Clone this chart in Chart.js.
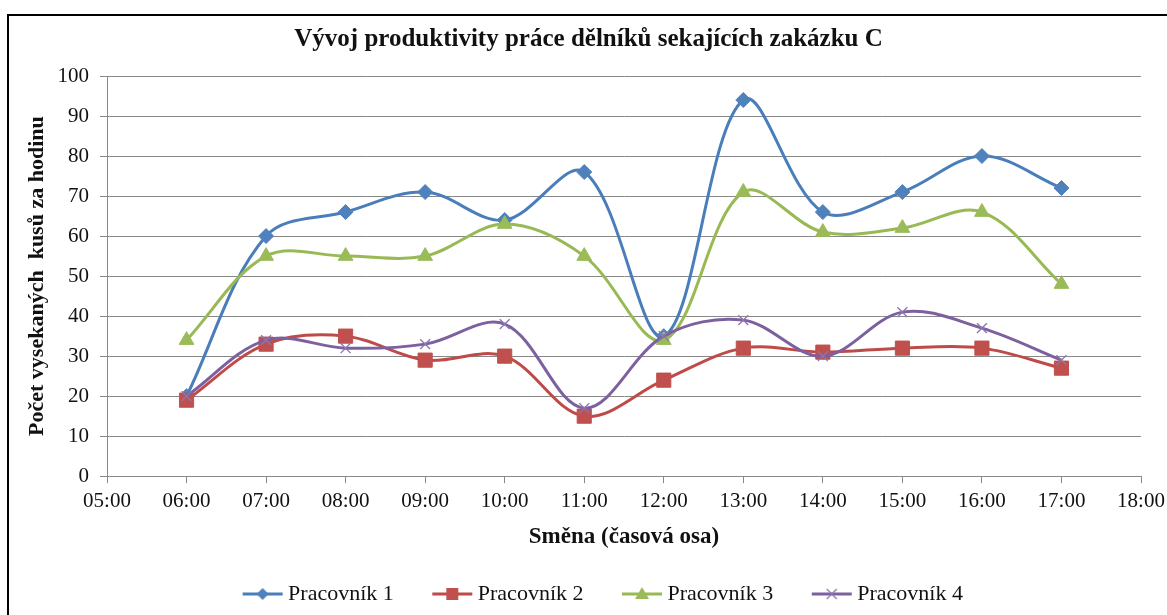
<!DOCTYPE html>
<html>
<head>
<meta charset="utf-8">
<script src="https://cdn.jsdelivr.net/npm/chart.js@4/dist/chart.umd.min.js"></script>
<style>
  html, body { margin: 0; padding: 0; background: #fff; overflow: hidden; }
  #wrap { position: relative; width: 1167px; height: 615px; }
  #frame { position: absolute; left: 7px; top: 14px; width: 1200px; height: 700px;
           border-left: 2px solid #000; border-top: 2px solid #000; box-sizing: border-box; }
  canvas { position: absolute; left: 0; top: 0; }
</style>
</head>
<body>
<div id="wrap">
  <div id="frame"></div>
  <canvas id="c" width="1167" height="615"></canvas>
</div>
<script>
// ---- data ----
const hours = [6, 7, 8, 9, 10, 11, 12, 13, 14, 15, 16, 17];
const tickLabels = ['05:00','06:00','07:00','08:00','09:00','10:00','11:00','12:00','13:00','14:00','15:00','16:00','17:00','18:00'];
const seriesNames = ['Pracovník 1', 'Pracovník 2', 'Pracovník 3', 'Pracovník 4'];
const pracovnik1 = [20, 60, 66, 71, 64, 76, 35, 94, 66, 71, 80, 72];
const pracovnik2 = [19, 33, 35, 29, 30, 15, 24, 32, 31, 32, 32, 27];
const pracovnik3 = [34, 55, 55, 55, 63, 55, 34, 71, 61, 62, 66, 48];
const pracovnik4 = [20, 34, 32, 33, 38, 17, 35, 39, 30, 41, 37, 29];
const titleText = 'Vývoj produktivity práce dělníků sekajících zakázku C';
const yTitle = 'Počet vysekaných  kusů za hodinu';
const xTitle = 'Směna (časová osa)';

// ---- styles ----
const lineColors = ['#4A7EBB', '#BE4B48', '#98B954', '#7D60A0'];
const markerColors = ['#4F81BD', '#C0504D', '#9BBB59', '#8C76B0'];
const shapes = ['rectRot', 'rect', 'triangle', 'crossRot'];
const radii = [7.5, 10, 8.5, 7];
const SERIF = '"Liberation Serif", "Times New Roman", serif';

function toPoints(vals) { return vals.map((v, i) => ({ x: hours[i], y: v })); }
const allSeries = [pracovnik1, pracovnik2, pracovnik3, pracovnik4];

// legend icons (line + marker)
const PSW = 63;
function makeIcon(i) {
  const cv = document.createElement('canvas');
  cv.width = 76; cv.height = 20;
  const g = cv.getContext('2d');
  g.strokeStyle = lineColors[i]; g.lineWidth = 3;
  g.beginPath(); g.moveTo(35, 10); g.lineTo(75, 10); g.stroke();
  const cx = 55, cy = 10;
  g.fillStyle = markerColors[i]; g.strokeStyle = markerColors[i];
  g.beginPath();
  if (shapes[i] === 'rectRot') {
    g.moveTo(cx, cy - 6); g.lineTo(cx + 6, cy); g.lineTo(cx, cy + 6); g.lineTo(cx - 6, cy); g.closePath(); g.fill();
  } else if (shapes[i] === 'rect') {
    g.rect(cx - 6, cy - 6, 12, 12); g.fill();
  } else if (shapes[i] === 'triangle') {
    g.moveTo(cx, cy - 7); g.lineTo(cx + 7, cy + 5); g.lineTo(cx - 7, cy + 5); g.closePath(); g.fill();
  } else {
    g.lineWidth = 1.3;
    g.moveTo(cx - 5, cy - 5); g.lineTo(cx + 5, cy + 5); g.moveTo(cx + 5, cy - 5); g.lineTo(cx - 5, cy + 5); g.stroke();
  }
  return cv;
}
const icons = [0, 1, 2, 3].map(makeIcon);

const datasets = allSeries.map((vals, i) => ({
  label: seriesNames[i],
  data: toPoints(vals),
  borderColor: lineColors[i],
  borderWidth: 3,
  tension: 0.35,
  pointStyle: shapes[i],
  pointRadius: radii[i],
  pointBackgroundColor: markerColors[i],
  pointBorderColor: markerColors[i],
  pointBorderWidth: shapes[i] === 'crossRot' ? 1.3 : 1,
  fill: false,
  order: 4 - i
}));

new Chart(document.getElementById('c'), {
  type: 'line',
  data: { datasets },
  options: {
    responsive: false,
    animation: false,
    events: [],
    layout: { padding: { left: 10, right: 0, top: 0, bottom: 0 } },
    scales: {
      x: {
        type: 'linear',
        min: 5, max: 18,
        ticks: {
          stepSize: 1,
          autoSkip: false,
          maxRotation: 0,
          padding: 6,
          color: '#111',
          font: { family: SERIF, size: 21 },
          callback: (v) => tickLabels[Math.round(v) - 5]
        },
        grid: { drawOnChartArea: false, drawTicks: true, tickLength: 7, color: '#888', lineWidth: 1 },
        border: { display: true, color: '#888', width: 1 },
        title: { display: true, text: xTitle, color: '#111',
                 font: { family: SERIF, size: 23, weight: 'bold' },
                 padding: { top: 3, bottom: 22 } },
        afterFit: (s) => { s.paddingRight = 26; }
      },
      y: {
        min: 0, max: 100,
        ticks: { stepSize: 10, padding: 11, color: '#111', font: { family: SERIF, size: 21 } },
        grid: { color: '#888', lineWidth: 1, drawTicks: true, tickLength: 7 },
        border: { display: true, color: '#888', width: 1 },
        title: { display: true, text: yTitle, color: '#111',
                 font: { family: SERIF, size: 22, weight: 'bold' },
                 padding: { top: 14, bottom: 6 } },
        afterFit: (s) => { s.width = 97; }
      }
    },
    plugins: {
      title: { display: true, text: titleText, color: '#111',
               font: { family: SERIF, size: 25, weight: 'bold' },
               padding: { top: 25, bottom: 21 } },
      legend: {
        position: 'bottom',
        labels: {
          usePointStyle: true,
          pointStyleWidth: PSW,
          padding: 10,
          color: '#111',
          font: { family: SERIF, size: 22 },
          generateLabels: (chart) => {
            const items = Chart.defaults.plugins.legend.labels.generateLabels(chart);
            items.forEach(it => { it.pointStyle = icons[it.datasetIndex]; });
            items.sort((a, b) => a.datasetIndex - b.datasetIndex);
            return items;
          }
        }
      },
      tooltip: { enabled: false }
    }
  }
});
</script>
</body>
</html>
